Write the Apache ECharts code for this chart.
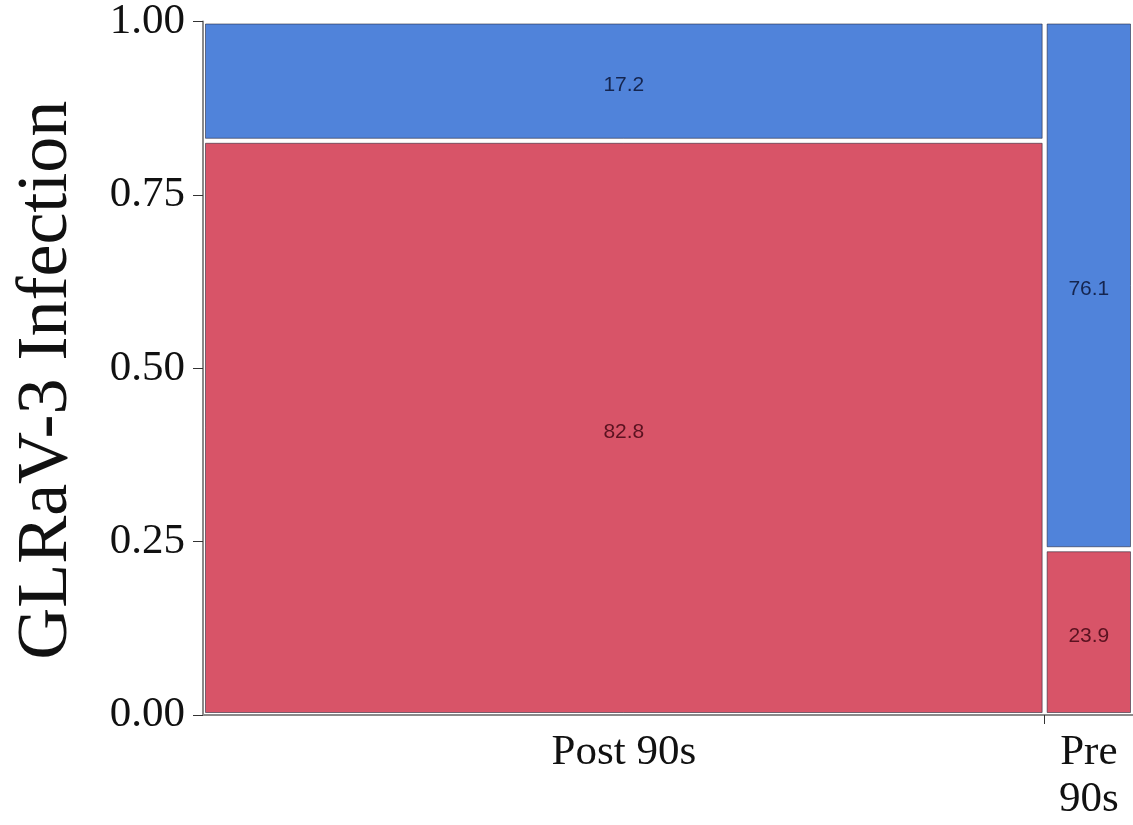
<!DOCTYPE html>
<html>
<head>
<meta charset="utf-8">
<script src="https://cdn.jsdelivr.net/npm/echarts@6/dist/echarts.min.js"></script>
<style>
html,body{margin:0;padding:0;background:#fff;}
#chart{width:1133px;height:825px;}
</style>
</head>
<body>
<div id="chart"></div>
<script>
// ---- data ----
const categories = ['Post 90s', 'Pre 90s'];
const categoryLabels = ['Post 90s', 'Pre\n90s'];
const categoryShare = [0.905, 0.095];      // column widths (share of samples)
const infectedPct = [17.2, 76.1];          // top (blue) segment, %
const notInfectedPct = [82.8, 23.9];       // bottom (red) segment, %
const yTickValues = [0, 0.25, 0.5, 0.75, 1];

const colorInfected = '#5083da';
const colorNotInfected = '#d85468';
const textInfected = '#15254f';
const textNotInfected = '#5a1220';

// build cells
const cells = [];
let x0 = 0;
const centers = [];
const bounds = [];
categories.forEach((c, i) => {
  const x1 = x0 + categoryShare[i];
  const red = notInfectedPct[i] / 100;
  cells.push([x0, x1, 0, red, notInfectedPct[i], 0]);
  cells.push([x0, x1, red, 1, infectedPct[i], 1]);
  centers.push((x0 + x1) / 2);
  if (i < categories.length - 1) bounds.push(x1);
  x0 = x1;
});

const chart = echarts.init(document.getElementById('chart'), null, {renderer: 'canvas'});
const gap = 2.5;
chart.setOption({
  animation: false,
  grid: {left: 203, right: 0, top: 18, bottom: 110},
  xAxis: {
    type: 'value', min: 0, max: 1,
    splitLine: {show: false},
    axisLine: {show: true, lineStyle: {color: '#8a8a8a', width: 2}},
    axisTick: {show: true, customValues: bounds, length: 9, lineStyle: {color: '#333', width: 1}},
    axisLabel: {
      customValues: centers,
      margin: 14,
      fontFamily: 'Liberation Serif',
      fontSize: 43,
      lineHeight: 47,
      color: '#111',
      formatter: function (v) {
        let best = 0, bd = 1e9;
        centers.forEach((c, i) => { const d = Math.abs(c - v); if (d < bd) { bd = d; best = i; } });
        return categoryLabels[best];
      }
    }
  },
  yAxis: {
    type: 'value', min: 0, max: 1, interval: 0.25,
    name: 'GLRaV-3 Infection',
    nameLocation: 'middle',
    nameGap: 120,
    nameTextStyle: {fontFamily: 'Liberation Serif', fontSize: 72, color: '#111', padding: [0, 24, 0, 0]},
    splitLine: {show: false},
    axisLine: {show: true, lineStyle: {color: '#8a8a8a', width: 2}},
    axisTick: {show: true, length: 10, lineStyle: {color: '#333', width: 1}},
    axisLabel: {
      margin: 18,
      fontFamily: 'Liberation Serif',
      fontSize: 43,
      color: '#111',
      formatter: v => v.toFixed(2)
    }
  },
  series: [{
    type: 'custom',
    data: cells,
    renderItem: function (params, api) {
      const a = api.coord([api.value(0), api.value(3)]);
      const b = api.coord([api.value(1), api.value(2)]);
      const top = api.value(5) === 1;
      const rx = a[0] + gap, ry = a[1] + gap;
      const rw = b[0] - a[0] - 2 * gap, rh = b[1] - a[1] - 2 * gap;
      return {
        type: 'group',
        children: [{
          type: 'rect',
          shape: {x: rx, y: ry, width: rw, height: rh},
          style: {
            fill: top ? colorInfected : colorNotInfected,
            stroke: 'rgba(30,30,50,0.55)',
            lineWidth: 1
          }
        }, {
          type: 'text',
          style: {
            text: api.value(4).toFixed(1),
            x: rx + rw / 2,
            y: ry + rh / 2 + 4,
            align: 'center',
            verticalAlign: 'middle',
            fontFamily: 'Liberation Sans',
            fontSize: 21,
            fill: top ? textInfected : textNotInfected
          }
        }]
      };
    }
  }]
});
</script>
</body>
</html>
